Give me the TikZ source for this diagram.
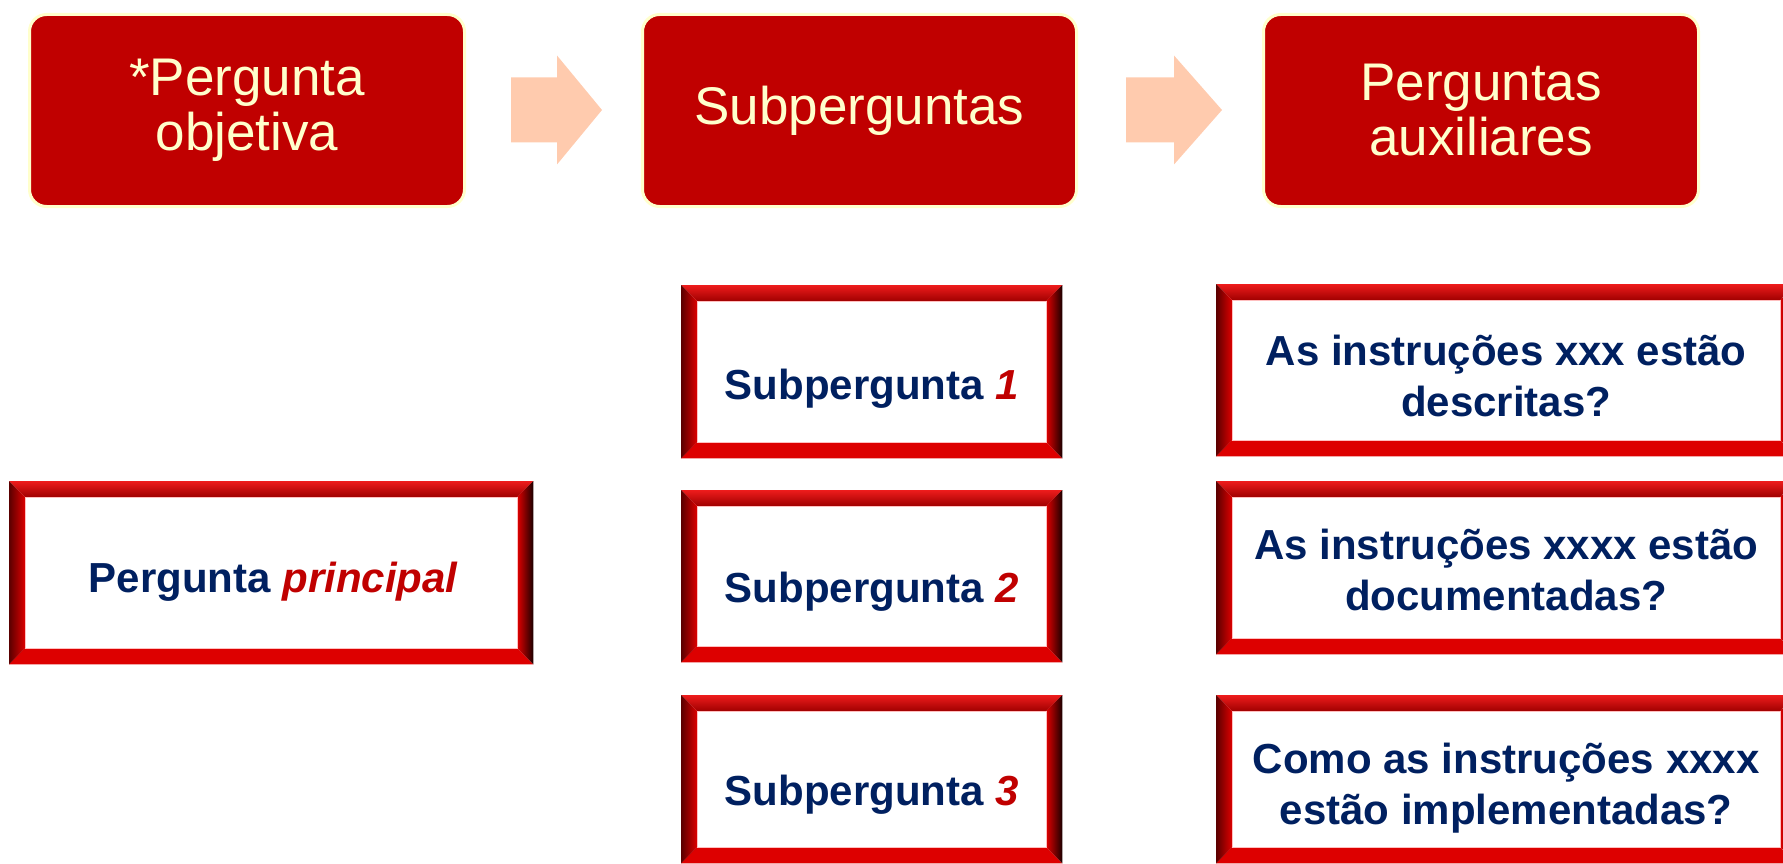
\documentclass[tikz,border=0pt]{standalone}
\usepackage{fontspec}
\setmainfont{Liberation Sans}
\usetikzlibrary{calc}
\definecolor{hdrred}{HTML}{C00000}
\definecolor{cream}{HTML}{FFFFCC}
\definecolor{peach}{HTML}{FFCBAE}
\definecolor{navy}{HTML}{002060}
\definecolor{frmred}{HTML}{DD0000}
\definecolor{frmlight}{HTML}{EE1C1C}
\definecolor{frmmid}{HTML}{A00000}
\definecolor{frmdark}{HTML}{5A0000}
\definecolor{frmblack}{HTML}{1A0000}
\tikzset{
  header/.style={draw=cream, line width=3pt, fill=hdrred, rounded corners=17pt,
    minimum height=192pt, anchor=north west, inner sep=0pt, align=center,
    text=cream, font=\fontsize{53}{55}\selectfont},
  framebox/.style={fill=white, anchor=north west, inner sep=0pt},
  frametext/.style={inner sep=0pt, align=center,
    text=navy, font=\fontsize{42}{51}\selectfont\bfseries},
  blockarrow/.style={fill=peach},
}
\newcommand\bevelframe[2][16]{%
  \shade[top color=frmlight, middle color=frmred, bottom color=frmmid]
    (#2.north west) -- (#2.north east) -- ($(#2.north east)+(-#1,#1)$) -- ($(#2.north west)+(#1,#1)$) -- cycle;
  \shade[top color=frmred, middle color=frmmid, bottom color=frmred]
    (#2.south west) -- (#2.south east) -- ($(#2.south east)+(-#1,-#1)$) -- ($(#2.south west)+(#1,-#1)$) -- cycle;
  \shade[left color=frmdark, right color=frmred]
    (#2.north west) -- ($(#2.north west)+(#1,#1)$) -- ($(#2.south west)+(#1,-#1)$) -- (#2.south west) -- cycle;
  \shade[left color=frmred, right color=frmblack]
    (#2.north east) -- ($(#2.north east)+(-#1,#1)$) -- ($(#2.south east)+(-#1,-#1)$) -- (#2.south east) -- cycle;
  \draw[red!25, line width=0.8pt] ($(#2.north west)+(#1,#1)$) rectangle ($(#2.south east)+(-#1,-#1)$);
}
\begin{document}
\begin{tikzpicture}[x=1pt, y=-1pt]
\useasboundingbox (0,0) rectangle (1783,864);

% headers
\node[header, minimum width=435pt] (h1) at (28,13) {*Pergunta\\objetiva};
\node[header, minimum width=434pt] (h2) at (641,13) {Subperguntas};
\node[header, minimum width=435pt] (h3) at (1262,13) {Perguntas\\auxiliares};

% block arrows
\fill[blockarrow] ($(h1.east)+(45,-33)$) -- ++(46,0) -- ++(0,-22) -- ++(45,54.5)
  -- ++(-45,54.5) -- ++(0,-22) -- ++(-46,0) -- cycle;
\fill[blockarrow] ($(h2.east)+(48,-33)$) -- ++(48,0) -- ++(0,-22) -- ++(48,54.5)
  -- ++(-48,54.5) -- ++(0,-22) -- ++(-48,0) -- cycle;

% framed boxes
\node[framebox, minimum width=524pt, minimum height=183pt] (pp) at (9,481) {};
\node[framebox, minimum width=381pt, minimum height=173pt] (s1) at (681,285) {};
\node[framebox, minimum width=381pt, minimum height=172pt] (s2) at (681,490) {};
\node[framebox, minimum width=381pt, minimum height=168pt] (s3) at (681,695) {};
\node[framebox, minimum width=580pt, minimum height=172pt] (r1) at (1216,284) {};
\node[framebox, minimum width=580pt, minimum height=173pt] (r2) at (1216,481) {};
\node[framebox, minimum width=580pt, minimum height=168pt] (r3) at (1216,695) {};

\bevelframe{pp}
\bevelframe{s1}
\bevelframe{s2}
\bevelframe{s3}
\bevelframe{r1}
\bevelframe{r2}
\bevelframe{r3}

% texts
\node[frametext] (ppt) at ($(pp.center)+(2,9)$)
  {Pergunta \textcolor{hdrred}{\itshape principal}};
\node[frametext] (s1t) at ($(s1.center)+(0,17)$)
  {Subpergunta \textcolor{hdrred}{\itshape 1}};
\node[frametext] (s2t) at ($(s2.center)+(0,16)$)
  {Subpergunta \textcolor{hdrred}{\itshape 2}};
\node[frametext] (s3t) at ($(s3.center)+(0,16)$)
  {Subpergunta \textcolor{hdrred}{\itshape 3}};
\node[frametext] (r1t) at ($(r1.center)+(0,6)$)
  {As instruções xxx estão\\descritas?};
\node[frametext] (r2t) at ($(r2.center)+(0,2)$)
  {As instruções xxxx estão\\documentadas?};
\node[frametext] (r3t) at ($(r3.center)+(0,9)$)
  {Como as instruções xxxx\\estão implementadas?};
\end{tikzpicture}
\end{document}
